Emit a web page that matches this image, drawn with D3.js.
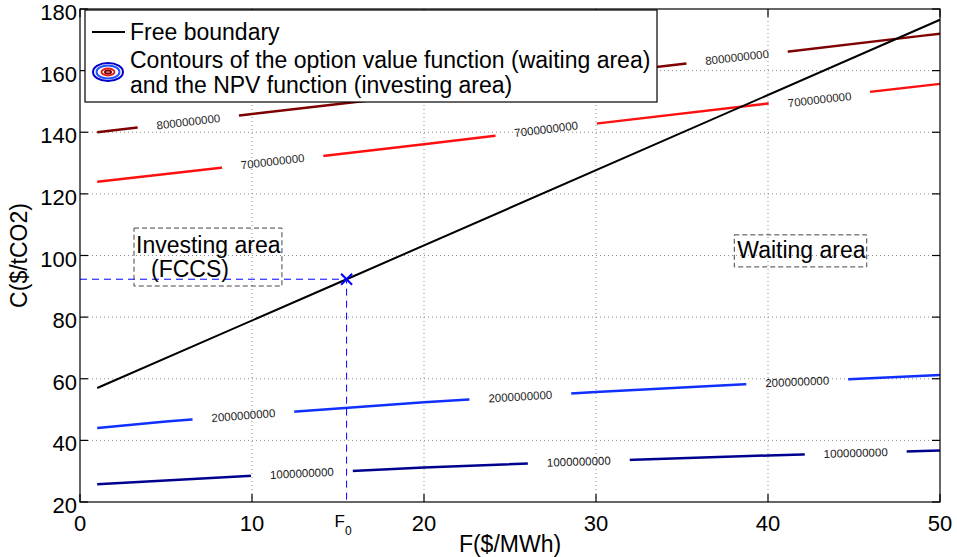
<!DOCTYPE html>
<html>
<head>
<meta charset="utf-8">
<title>Free boundary</title>
<style>
    body {
        margin: 0;
        background: #fff;
        font-family: "Liberation Sans", Arial, Helvetica, sans-serif;
    }
    .tick-label { font-size: 22px; fill: #000; }
    .axis-title { font-size: 23px; fill: #000; text-anchor: middle; }
    .legend-text { font-size: 23px; fill: #000; }
    .note { font-size: 23px; fill: #000; }
    .clabel { font-size: 11.5px; fill: #1a1a1a; text-anchor: middle; dominant-baseline: central; }
    .grid line { stroke: #8c8c8c; stroke-width: 1; stroke-dasharray: 1,3; }
</style>
</head>
<body>
<script src="https://d3js.org/d3.v7.min.js"></script>
<script>
    // values
    let xTicks = [0, 10, 20, 30, 40, 50]
    let yTicks = [20, 40, 60, 80, 100, 120, 140, 160, 180]

    let boundaryF = [1, 15.5, 50]
    let boundaryC = [57, 92.3, 176.5]

    let contourLevels = [8000000000, 7000000000, 2000000000, 1000000000]
    let contourColors = ['#7f0000', '#ff1010', '#1030ff', '#00008f']
    let contourF = [
        [1, 10, 20, 30, 40, 50],
        [1, 10, 20, 30, 40, 50],
        [1, 5, 10, 20, 30, 40, 50],
        [1, 10, 20, 30, 40, 50]
    ]
    let contourC = [
        [140, 145.9, 152.4, 158.9, 165.4, 172],
        [123.9, 129.6, 136.1, 142.8, 149.3, 155.7],
        [44, 46.1, 48.3, 52.4, 55.7, 58.6, 61.2],
        [25.8, 28.5, 31.2, 33.3, 35.1, 36.7]
    ]
    let labelF = [[6.3, 38.2], [11.2, 27.1, 43.0], [9.5, 25.6, 41.7], [12.9, 29.0, 45.1]]
    let labelC = [[143.4, 164.3], [130.5, 141.0, 150.6], [48.1, 54.2, 59.0], [29.3, 33.1, 35.9]]

    let optF = 15.5, optC = 92.3

    let width = 957, height = 557
    let plot = { left: 80, right: 940, top: 9, bottom: 502 }

    let x = d3.scaleLinear().domain([0, 50]).range([plot.left, plot.right])
    let y = d3.scaleLinear().domain([20, 180]).range([plot.bottom, plot.top])

    let svg = d3.select('body').append('svg')
        .attr('width', width)
        .attr('height', height)

    let defs = svg.append('defs')

    // grid
    let grid = svg.append('g').classed('grid', true)
    grid.selectAll('line.gx')
        .data(xTicks.slice(1, -1))
        .enter().append('line')
        .attr('x1', d => x(d)).attr('x2', d => x(d))
        .attr('y1', plot.top).attr('y2', plot.bottom)
    grid.selectAll('line.gy')
        .data(yTicks.slice(1, -1))
        .enter().append('line')
        .attr('class', 'gy')
        .attr('x1', plot.left).attr('x2', plot.right)
        .attr('y1', d => y(d)).attr('y2', d => y(d))

    // contour lines, with gaps where the labels sit
    let line = d3.line().x(d => x(d[0])).y(d => y(d[1])).curve(d3.curveMonotoneX)

    function angleAt(fs, cs, f) {
        let i = 0
        while (i < fs.length - 2 && fs[i + 1] < f) i++
        return Math.atan2(y(cs[i + 1]) - y(cs[i]), x(fs[i + 1]) - x(fs[i])) * 180 / Math.PI
    }

    contourLevels.forEach(function (level, k) {
        let pts = contourF[k].map((f, i) => [f, contourC[k][i]])
        let mask = defs.append('mask').attr('id', 'gap' + k)
            .attr('maskUnits', 'userSpaceOnUse')
            .attr('x', 0).attr('y', 0).attr('width', width).attr('height', height)
        mask.append('rect').attr('width', width).attr('height', height).attr('fill', '#fff')
        mask.selectAll('rect.g')
            .data(labelF[k])
            .enter().append('rect')
            .attr('x', -51).attr('y', -8).attr('width', 102).attr('height', 16)
            .attr('fill', '#000')
            .attr('transform', (d, i) => `translate(${x(d)},${y(labelC[k][i])}) rotate(${angleAt(contourF[k], contourC[k], d)})`)

        svg.append('path')
            .datum(pts)
            .attr('d', line)
            .attr('fill', 'none')
            .attr('stroke', contourColors[k])
            .attr('stroke-width', 2.5)
            .attr('mask', `url(#gap${k})`)

        svg.append('g').selectAll('text')
            .data(labelF[k])
            .enter().append('text')
            .classed('clabel', true)
            .attr('transform', (d, i) => `translate(${x(d)},${y(labelC[k][i])}) rotate(${angleAt(contourF[k], contourC[k], d)})`)
            .text(level)
    })

    // free boundary
    svg.append('path')
        .datum(boundaryF.map((f, i) => [f, boundaryC[i]]))
        .attr('d', d3.line().x(d => x(d[0])).y(d => y(d[1])))
        .attr('fill', 'none')
        .attr('stroke', '#000')
        .attr('stroke-width', 2)

    // optimum point and guide lines
    svg.append('path')
        .attr('d', `M${plot.left},${y(optC)}H${x(optF)}V${plot.bottom}`)
        .attr('fill', 'none')
        .attr('stroke', '#0000ff')
        .attr('stroke-width', 1)
        .attr('stroke-dasharray', '7,5')
    let mx = x(optF), my = y(optC), s = 5.5
    svg.append('path')
        .attr('d', `M${mx - s},${my - s}L${mx + s},${my + s}M${mx - s},${my + s}L${mx + s},${my - s}`)
        .attr('stroke', '#0000ff')
        .attr('stroke-width', 2)

    // area notes
    let notes = svg.append('g')
    notes.append('rect')
        .attr('x', x(3.14)).attr('y', y(108.9))
        .attr('width', x(11.74) - x(3.14)).attr('height', y(90.1) - y(108.9))
        .attr('fill', 'none').attr('stroke', '#444').attr('stroke-dasharray', '5,3')
    notes.append('text').classed('note', true)
        .attr('x', x(3.14) + 2).attr('y', y(108.9) + 25).text('Investing area')
    notes.append('text').classed('note', true)
        .attr('x', x(3.14) + 17).attr('y', y(108.9) + 49).text('(FCCS)')
    notes.append('rect')
        .attr('x', x(38.04)).attr('y', y(106.7))
        .attr('width', x(45.74) - x(38.04)).attr('height', y(96.3) - y(106.7))
        .attr('fill', 'none').attr('stroke', '#444').attr('stroke-dasharray', '5,3')
    notes.append('text').classed('note', true)
        .attr('x', x(38.04) + 3).attr('y', y(106.7) + 23).text('Waiting area')

    // axes box and ticks
    let tickLen = 8
    let axes = svg.append('g').attr('stroke', '#000').attr('stroke-width', 1.2)
    axes.append('rect')
        .attr('x', plot.left).attr('y', plot.top)
        .attr('width', plot.right - plot.left).attr('height', plot.bottom - plot.top)
        .attr('fill', 'none')
    axes.selectAll('line.xb').data(xTicks).enter().append('line')
        .attr('x1', d => x(d)).attr('x2', d => x(d))
        .attr('y1', plot.bottom).attr('y2', plot.bottom - tickLen)
    axes.selectAll('line.xt').data(xTicks).enter().append('line')
        .attr('class', 'xt')
        .attr('x1', d => x(d)).attr('x2', d => x(d))
        .attr('y1', plot.top).attr('y2', plot.top + tickLen)
    axes.selectAll('line.yl').data(yTicks).enter().append('line')
        .attr('class', 'yl')
        .attr('x1', plot.left).attr('x2', plot.left + tickLen)
        .attr('y1', d => y(d)).attr('y2', d => y(d))
    axes.selectAll('line.yr').data(yTicks).enter().append('line')
        .attr('class', 'yr')
        .attr('x1', plot.right).attr('x2', plot.right - tickLen)
        .attr('y1', d => y(d)).attr('y2', d => y(d))

    svg.append('g').selectAll('text')
        .data(xTicks).enter().append('text')
        .classed('tick-label', true)
        .attr('x', d => x(d)).attr('y', plot.bottom + 29)
        .attr('text-anchor', 'middle')
        .text(d => d)
    svg.append('g').selectAll('text')
        .data(yTicks).enter().append('text')
        .classed('tick-label', true)
        .attr('x', plot.left - 3).attr('y', d => y(d))
        .attr('dy', '0.5em')
        .attr('text-anchor', 'end')
        .text(d => d)

    // F0 tick label
    let f0 = svg.append('text').attr('x', x(optF) - 12).attr('y', plot.bottom + 25)
    f0.append('tspan').attr('font-size', '17px').text('F')
    f0.append('tspan').attr('font-size', '12px').attr('dy', 8).text('0')

    svg.append('text').classed('axis-title', true)
        .attr('x', (plot.left + plot.right) / 2).attr('y', 552)
        .text('F($/MWh)')
    svg.append('text').classed('axis-title', true)
        .attr('transform', `translate(27,${(plot.top + plot.bottom) / 2}) rotate(-90)`)
        .text('C($/tCO2)')

    // legend
    let legend = svg.append('g')
    legend.append('rect')
        .attr('x', 85).attr('y', 10).attr('width', 572).attr('height', 92)
        .attr('fill', '#fff').attr('stroke', '#000').attr('stroke-width', 1.2)
    legend.append('line')
        .attr('x1', 92).attr('x2', 125).attr('y1', 32).attr('y2', 32)
        .attr('stroke', '#000').attr('stroke-width', 2)
    legend.append('text').classed('legend-text', true)
        .attr('x', 130).attr('y', 40).text('Free boundary')
    let rings = [[15, 9, '#0000c8'], [11.5, 6.5, '#2050ff'], [6.5, 3.5, '#e02020'], [3, 1.5, '#800000']]
    legend.selectAll('ellipse').data(rings).enter().append('ellipse')
        .attr('cx', 108).attr('cy', 72)
        .attr('rx', d => d[0]).attr('ry', d => d[1])
        .attr('fill', 'none').attr('stroke', d => d[2]).attr('stroke-width', 2)
    legend.append('text').classed('legend-text', true)
        .attr('x', 130).attr('y', 68).text('Contours of the option value function (waiting area)')
    legend.append('text').classed('legend-text', true)
        .attr('x', 130).attr('y', 93).text('and the NPV function (investing area)')
</script>
</body>
</html>
